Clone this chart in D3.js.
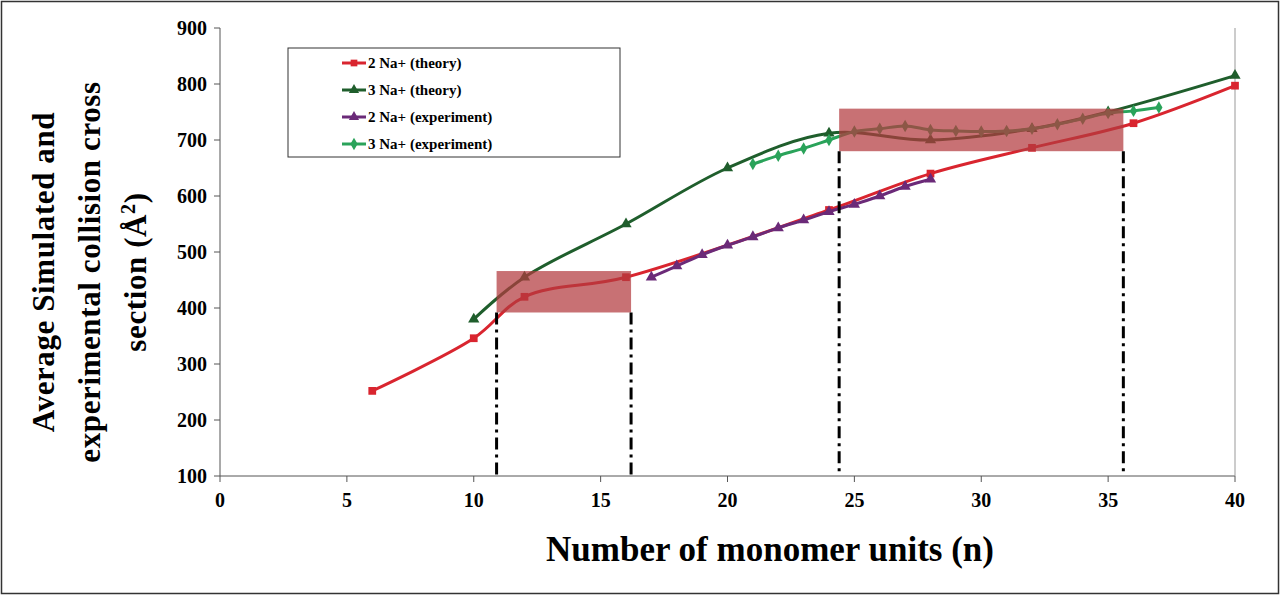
<!DOCTYPE html>
<html><head><meta charset="utf-8">
<script src="https://cdn.jsdelivr.net/npm/d3@7"></script>
<style>body{margin:0;background:#fff}text{font-family:"Liberation Serif","Times New Roman",serif}</style>
</head><body><svg id="chart" width="1280" height="595"></svg>
<script>
var red2X = [6,10,12,16,24,28,32,36,40];
var red2Y = [252,346,420,455,575,640,686,730,797];
var green3X = [10,12,16,20,24,28,32,35,40];
var green3Y = [380,455,550,650,712,700,720,750,815];
var purpleX = [17,18,19,20,21,22,23,24,25,26,27,28];
var purpleY = [455,475,495,512,527,543,557,572,585,600,617,630];
var lightX = [21,22,23,24,25,26,27,28,29,30,31,32,33,34,35,36,37];
var lightY = [657,672,685,700,715,720,725,718,716,715,716,720,728,738,748,752,758];
var boxes = [{x0:10.9,x1:16.2,y0:392,y1:466},{x0:24.4,x1:35.6,y0:680,y1:756}];
var xTicks = [0,5,10,15,20,25,30,35,40];
var yTicks = [100,200,300,400,500,600,700,800,900];

var svg = d3.select("#chart");
svg.append("rect").attr("x",1.5).attr("y",1.5).attr("width",1277).attr("height",592)
  .attr("fill","none").attr("stroke","#333").attr("stroke-width",1.5);

var x = d3.scaleLinear().domain([0,40]).range([220,1235]);
var y = d3.scaleLinear().domain([100,900]).range([476,28]);

svg.append("line").attr("x1",220).attr("x2",220).attr("y1",28).attr("y2",476).attr("stroke","#555");
svg.append("line").attr("x1",220).attr("x2",1235).attr("y1",476).attr("y2",476).attr("stroke","#555");
svg.append("line").attr("x1",1235).attr("x2",1235).attr("y1",28).attr("y2",476).attr("stroke","#999");

svg.selectAll(".yt").data(yTicks).enter().append("text")
  .attr("x",207).attr("y",function(d){return y(d)+7;}).attr("text-anchor","end")
  .attr("font-size",20).attr("font-weight","bold").text(function(d){return d;});
svg.selectAll(".ytk").data(yTicks).enter().append("line")
  .attr("x1",214).attr("x2",220).attr("y1",function(d){return y(d);}).attr("y2",function(d){return y(d);}).attr("stroke","#555");
svg.selectAll(".xt").data(xTicks).enter().append("text")
  .attr("x",function(d){return x(d);}).attr("y",507).attr("text-anchor","middle")
  .attr("font-size",20).attr("font-weight","bold").text(function(d){return d;});
svg.selectAll(".xtk").data(xTicks).enter().append("line")
  .attr("x1",function(d){return x(d);}).attr("x2",function(d){return x(d);}).attr("y1",476).attr("y2",482).attr("stroke","#555");

svg.append("text").attr("x",770).attr("y",561).attr("text-anchor","middle")
  .attr("font-size",35).attr("font-weight","bold").text("Number of monomer units (n)");
var yt = svg.append("text").attr("transform","translate(0,272) rotate(-90)")
  .attr("text-anchor","middle").attr("font-size",31).attr("font-weight","bold").attr("letter-spacing",0.6);
yt.append("tspan").attr("x",0).attr("y",54).text("Average Simulated and");
yt.append("tspan").attr("x",0).attr("y",100).text("experimental collision cross");
var t3 = yt.append("tspan").attr("x",0).attr("y",146).text("section (Å");
t3.append("tspan").attr("font-size",20).attr("dy",-11).text("2");
yt.append("tspan").attr("dy",11).text(")");

function series(xs, ys, color, shape, size){
  var pts = xs.map(function(d,i){return [x(d), y(ys[i])];});
  svg.append("path").attr("d", d3.line().curve(d3.curveCatmullRom.alpha(0.5))(pts))
    .attr("fill","none").attr("stroke",color).attr("stroke-width",3);
  svg.selectAll(null).data(pts).enter().append("path")
    .attr("transform",function(d){return "translate("+d[0]+","+d[1]+")";})
    .attr("d", d3.symbol().type(shape).size(size)).attr("fill",color);
}
series(red2X, red2Y, "#d9252f", d3.symbolSquare, 60);
series(green3X, green3Y, "#1f5e2c", d3.symbolTriangle, 55);
series(purpleX, purpleY, "#6b2a78", d3.symbolTriangle, 55);
series(lightX, lightY, "#2aa35a", d3.symbolDiamond, 45);

boxes.forEach(function(b){
  svg.append("rect").attr("x",x(b.x0)).attr("y",y(b.y1)).attr("width",x(b.x1)-x(b.x0))
    .attr("height",y(b.y0)-y(b.y1)).attr("fill","#b33a3e").attr("opacity",0.72);
  [b.x0,b.x1].forEach(function(v){
    svg.append("line").attr("x1",x(v)).attr("x2",x(v)).attr("y1",y(b.y0)).attr("y2",476)
      .attr("stroke","#000").attr("stroke-width",3).attr("stroke-dasharray","12,5,3,5");
  });
});

var lg = svg.append("g");
lg.append("rect").attr("x",288).attr("y",48).attr("width",332).attr("height",109)
  .attr("fill","#fff").attr("stroke","#333");
var legItems = [["2 Na+ (theory)","#d9252f",d3.symbolSquare],["3 Na+ (theory)","#1f5e2c",d3.symbolTriangle],
  ["2 Na+ (experiment)","#6b2a78",d3.symbolTriangle],["3 Na+ (experiment)","#2aa35a",d3.symbolDiamond]];
legItems.forEach(function(d,i){
  var yy = 63 + i*27;
  lg.append("line").attr("x1",342).attr("x2",366).attr("y1",yy).attr("y2",yy).attr("stroke",d[1]).attr("stroke-width",3);
  lg.append("path").attr("transform","translate(354,"+yy+")").attr("d",d3.symbol().type(d[2]).size(45)).attr("fill",d[1]);
  lg.append("text").attr("x",368).attr("y",yy+5).attr("font-size",15).attr("font-weight","bold").text(d[0]);
});
</script></body></html>
